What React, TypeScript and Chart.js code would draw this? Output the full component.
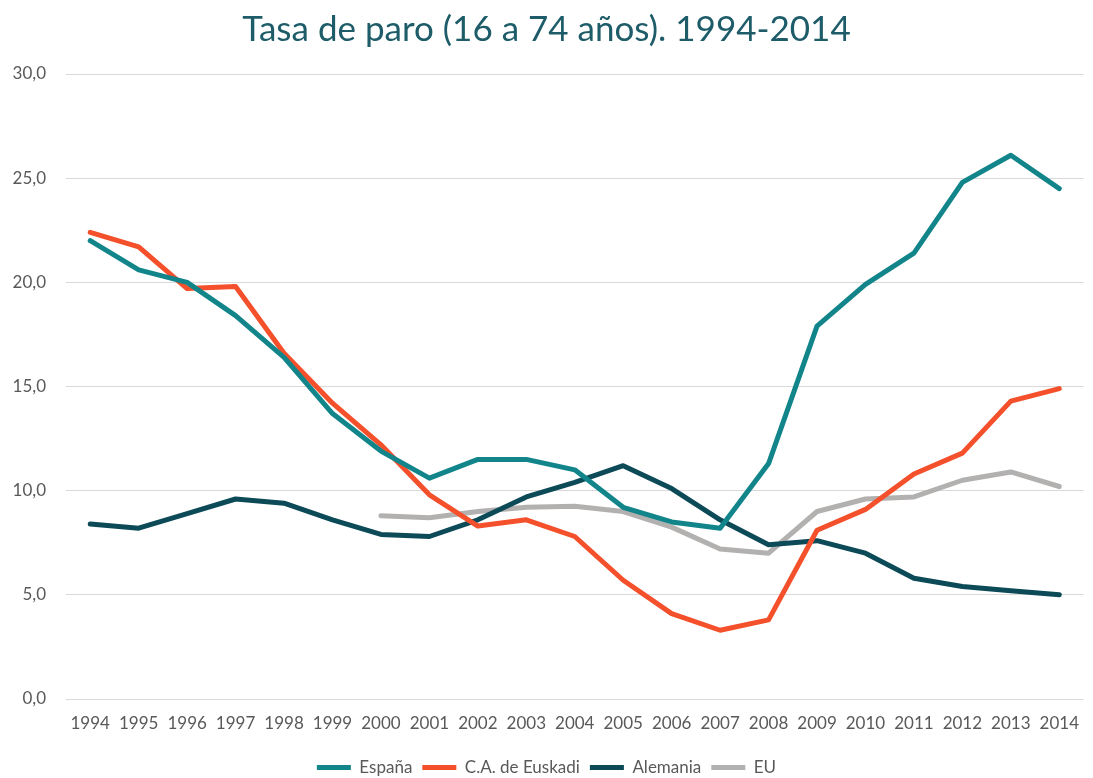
import React, { useEffect, useRef } from "react";
import { Chart, registerables } from "chart.js";

Chart.register(...registerables);

const years = ["1994","1995","1996","1997","1998","1999","2000","2001","2002","2003","2004","2005","2006","2007","2008","2009","2010","2011","2012","2013","2014"];
const espana = [22.0, 20.6, 20.0, 18.4, 16.4, 13.7, 11.9, 10.6, 11.5, 11.5, 11.0, 9.2, 8.5, 8.2, 11.3, 17.9, 19.9, 21.4, 24.8, 26.1, 24.5];
const euskadi = [22.4, 21.7, 19.7, 19.8, 16.6, 14.2, 12.2, 9.8, 8.3, 8.6, 7.8, 5.7, 4.1, 3.3, 3.8, 8.1, 9.1, 10.8, 11.8, 14.3, 14.9];
const alemania = [8.4, 8.2, 8.9, 9.6, 9.4, 8.6, 7.9, 7.8, 8.6, 9.7, 10.4, 11.2, 10.1, 8.6, 7.4, 7.6, 7.0, 5.8, 5.4, 5.2, 5.0];
const eu = [null, null, null, null, null, null, 8.8, 8.7, 9.0, 9.2, 9.25, 9.0, 8.25, 7.2, 7.0, 9.0, 9.6, 9.7, 10.5, 10.9, 10.2];
const seriesNames = ["España", "C.A. de Euskadi", "Alemania", "EU"];
const titleText = "Tasa de paro (16 a 74 años). 1994-2014";

export default function App() {
  const ref = useRef<HTMLCanvasElement | null>(null);
  useEffect(() => {
    document.body.style.margin = "0";
    document.body.style.overflow = "hidden";
    const ctx = ref.current!.getContext("2d")!;
    const mk = (label: string, data: any[], color: string) => ({
      label,
      data,
      borderColor: color,
      backgroundColor: color,
      borderWidth: 5,
      pointRadius: 0,
      pointHoverRadius: 0,
      tension: 0,
      borderJoinStyle: "round" as const,
      borderCapStyle: "round" as const,
      spanGaps: false,
    });
    const chart = new Chart(ctx, {
      type: "line",
      data: {
        labels: years,
        datasets: [
          mk(seriesNames[0], espana, "#12858b"),
          mk(seriesNames[1], euskadi, "#f4502b"),
          mk(seriesNames[2], alemania, "#0c4a58"),
          mk(seriesNames[3], eu, "#b3b0b0"),
        ],
      },
      options: {
        animation: false,
        responsive: false,
        maintainAspectRatio: false,
        layout: { padding: { left: 0, right: 0, top: 0, bottom: 0 } },
        plugins: {
          tooltip: { enabled: false },
          title: {
            display: true,
            text: titleText,
            color: "#1d5c68",
            font: { family: "Lato", size: 35, weight: "normal" },
            padding: { top: 9, bottom: 23 },
          },
          legend: {
            position: "bottom",
            labels: {
              usePointStyle: true,
              pointStyle: "line",
              pointStyleWidth: 34,
              color: "#595959",
              font: { family: "Lato", size: 17 },
              padding: 10,
            },
          },
        },
        scales: {
          x: {
            offset: true,
            grid: { display: false, drawTicks: false },
            border: { display: false },
            ticks: { color: "#595959", font: { family: "Lato", size: 17 }, padding: 14, maxRotation: 0, autoSkip: false },
            afterFit: (s: any) => { s.height = 50; },
          },
          y: {
            min: 0,
            max: 30,
            grid: { color: "#d9d9d9", lineWidth: 1, drawTicks: false },
            border: { display: false },
            ticks: {
              stepSize: 5,
              color: "#595959",
              font: { family: "Lato", size: 17 },
              padding: 20,
              callback: (v: any) => Number(v).toFixed(1).replace(".", ","),
            },
            afterFit: (s: any) => { s.width = 66; },
          },
        },
      },
    });
    return () => chart.destroy();
  }, []);
  return (
    <div style={{ width: 1093, height: 778, overflow: "hidden" }}>
      <canvas ref={ref} width={1093} height={786} style={{ display: "block" }} />
    </div>
  );
}
